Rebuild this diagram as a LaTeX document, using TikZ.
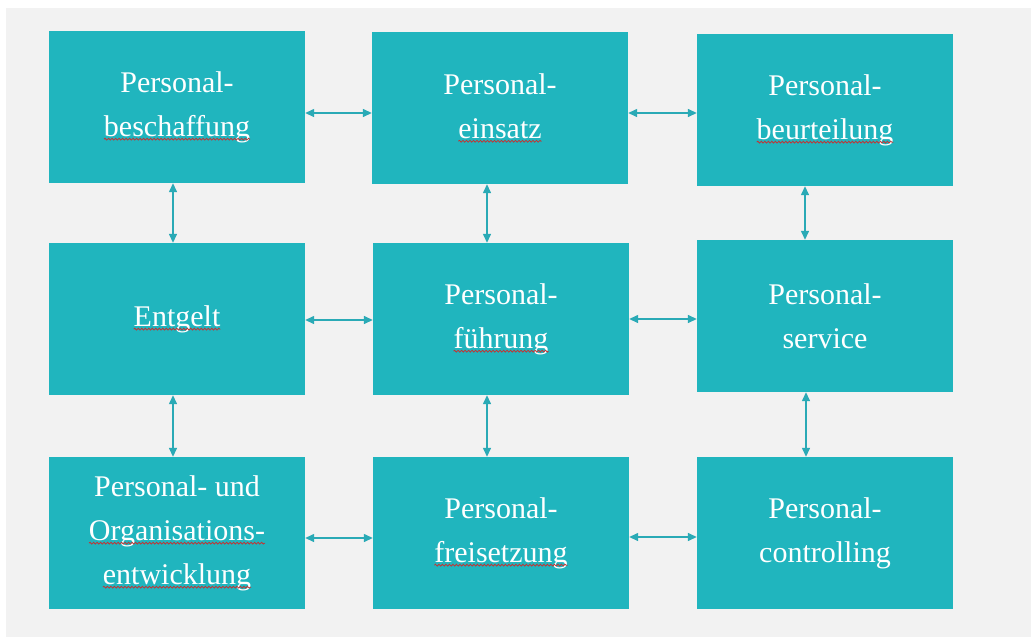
\documentclass[tikz,border=0pt]{standalone}
\usepackage{fontspec}
\setmainfont{Liberation Serif}
\usetikzlibrary{arrows.meta,decorations.pathmorphing}
\definecolor{boxteal}{RGB}{32,181,190}
\definecolor{arrteal}{RGB}{42,170,182}
\definecolor{bggray}{RGB}{242,242,242}
\definecolor{wavered}{RGB}{196,50,50}
\newcommand\rwave[1]{\tikz[baseline=(w.base),x=1pt,y=1pt]{\node[inner sep=0pt,outer sep=0pt,minimum width=0pt,minimum height=0pt,fill=none,draw=none,text=white] (w) {#1};
  \draw[wavered, line width=0.8pt, decorate, decoration={snake, amplitude=0.9pt, segment length=3.5pt}]
    ([yshift=-3pt]w.base west) -- ([yshift=-3pt]w.base east);}}
\tikzset{
  box/.style={rectangle, fill=boxteal, minimum width=256pt, minimum height=152pt,
    inner sep=0pt, text=white, align=center, font=\fontsize{30}{44}\selectfont},
  arr/.style={draw=arrteal, line width=1.4pt, {Triangle[length=9pt,width=8pt]}-{Triangle[length=9pt,width=8pt]}}
}
\begin{document}
\begin{tikzpicture}[x=1pt,y=-1pt]
\useasboundingbox (0,0) rectangle (1031,637);
\fill[white] (0,0) rectangle (1031,637);
\fill[bggray] (6,8) rectangle (1031,637);
\node[box] (b1) at (177,107) {Personal-\\\rwave{beschaffung}};
\node[box] (b2) at (500,108) {Personal-\\\rwave{einsatz}};
\node[box] (b3) at (825,110) {Personal-\\\rwave{beurteilung}};
\node[box] (b4) at (177,319) {\rwave{Entgelt}};
\node[box] (b5) at (501,319) {Personal-\\\rwave{führung}};
\node[box] (b6) at (825,316) {Personal-\\service};
\node[box] (b7) at (177,533) {Personal- und\\\rwave{Organisations-}\\\rwave{entwicklung}};
\node[box] (b8) at (501,533) {Personal-\\\rwave{freisetzung}};
\node[box] (b9) at (825,533) {Personal-\\controlling};
% horizontal connectors
\draw[arr] (b1.east |- 0,113) -- (b2.west |- 0,113);
\draw[arr] (b2.east |- 0,113) -- (b3.west |- 0,113);
\draw[arr] (b4.east |- 0,320) -- (b5.west |- 0,320);
\draw[arr] (b5.east |- 0,319) -- (b6.west |- 0,319);
\draw[arr] (b7.east |- 0,538) -- (b8.west |- 0,538);
\draw[arr] (b8.east |- 0,537) -- (b9.west |- 0,537);
% vertical connectors
\draw[arr] (b1.south -| 173,0) -- (b4.north -| 173,0);
\draw[arr] (b4.south -| 173,0) -- (b7.north -| 173,0);
\draw[arr] (b2.south -| 487,0) -- (b5.north -| 487,0);
\draw[arr] (b5.south -| 487,0) -- (b8.north -| 487,0);
\draw[arr] (b3.south -| 805,0) -- (b6.north -| 805,0);
\draw[arr] (b6.south -| 806,0) -- (b9.north -| 806,0);
\end{tikzpicture}
\end{document}
